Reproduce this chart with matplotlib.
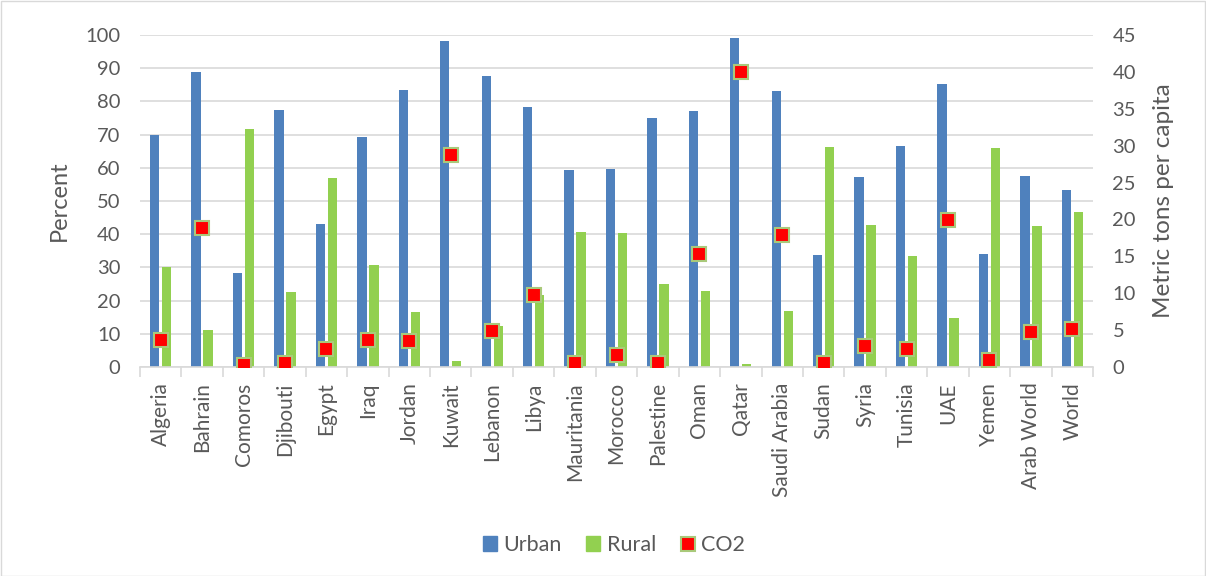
import matplotlib
matplotlib.use("Agg")
import matplotlib.pyplot as plt
from matplotlib.patches import Rectangle
from matplotlib.lines import Line2D
from matplotlib.ticker import FixedLocator, NullFormatter
import numpy as np

plt.rcParams['font.family'] = ['Lato', 'DejaVu Sans']

countries = ["Algeria", "Bahrain", "Comoros", "Djibouti", "Egypt", "Iraq", "Jordan",
             "Kuwait", "Lebanon", "Libya", "Mauritania", "Morocco", "Palestine", "Oman",
             "Qatar", "Saudi Arabia", "Sudan", "Syria", "Tunisia", "UAE", "Yemen",
             "Arab World", "World"]
urban = [70.0, 88.8, 28.2, 77.3, 43.0, 69.4, 83.4, 98.3, 87.7, 78.3, 59.3, 59.7, 75.1,
         77.2, 99.2, 83.0, 33.6, 57.2, 66.6, 85.3, 34.1, 57.6, 53.4]
rural = [30.0, 11.2, 71.8, 22.7, 57.0, 30.6, 16.6, 1.7, 12.3, 21.7, 40.7, 40.3, 24.9,
         22.8, 0.8, 17.0, 66.4, 42.8, 33.4, 14.7, 65.9, 42.4, 46.6]
co2 = [3.7, 18.9, 0.3, 0.5, 2.5, 3.7, 3.5, 28.8, 4.9, 9.7, 0.6, 1.6, 0.6,
       15.3, 40.0, 17.9, 0.5, 2.85, 2.5, 19.9, 1.0, 4.7, 5.1]

BLUE = "#4f81bd"
GREEN = "#92d050"
RED = "#ff0000"
GRID = "#d9d9d9"
TXT = "#595959"
MEDGE = "#a9c97a"

fig = plt.figure(figsize=(12.06, 5.76), dpi=100)
ax = fig.add_axes([140/1206, 1 - 367/576, (1093 - 140)/1206, (367 - 35)/576])
x = np.arange(len(countries))
w = 0.225
ax.bar(x - 0.145, urban, width=w, color=BLUE, zorder=2, label="Urban")
ax.bar(x + 0.145, rural, width=w, color=GREEN, zorder=2, label="Rural")

ax.set_xlim(-0.5, len(countries) - 0.5)
ax.set_ylim(0, 100)
ax.set_yticks(np.arange(0, 101, 10))
ax.grid(axis='y', color=GRID, linewidth=1.2, zorder=0)
ax.set_axisbelow(True)
for s in ["top", "left", "right"]:
    ax.spines[s].set_visible(False)
ax.spines["bottom"].set_color(GRID)
ax.spines["bottom"].set_linewidth(1.2)
ax.set_xticks(x)
ax.set_xticklabels(countries, rotation=90, fontsize=15, color=TXT)
ax.tick_params(axis='x', which='major', length=0, pad=11)
ax.xaxis.set_minor_locator(FixedLocator(np.arange(-0.5, len(countries), 1)))
ax.xaxis.set_minor_formatter(NullFormatter())
ax.tick_params(axis='x', which='minor', length=7, color=GRID, width=1.2)
ax.tick_params(axis='y', length=0, labelsize=14.5, labelcolor=TXT, pad=14)
ax.set_ylabel("Percent", fontsize=17, color=TXT)
ax.yaxis.set_label_coords(-0.074, 0.5)

ax2 = ax.twinx()
ax2.plot(x, co2, linestyle='none', marker='s', markersize=10, markerfacecolor=RED,
         markeredgecolor=MEDGE, markeredgewidth=1.5, zorder=3, label="CO2")
ax2.set_ylim(0, 45)
ax2.set_yticks(np.arange(0, 46, 5))
for s in ["top", "left", "right", "bottom"]:
    ax2.spines[s].set_visible(False)
ax2.tick_params(axis='y', length=0, labelsize=14.5, labelcolor=TXT, pad=14)
ax2.set_ylabel("Metric tons per capita", fontsize=17.5, color=TXT)
ax2.yaxis.set_label_coords(1.063, 0.5)

handles = [
    Rectangle((0, 0), 1, 1, color=BLUE),
    Rectangle((0, 0), 1, 1, color=GREEN),
    Line2D([], [], linestyle='none', marker='s', markersize=10, markerfacecolor=RED,
           markeredgecolor=MEDGE, markeredgewidth=1.5),
]
fig.legend(handles, ["Urban", "Rural", "CO2"], loc='center', ncol=3,
           bbox_to_anchor=(614/1206, 1 - 545/576), frameon=False, fontsize=15.5,
           labelcolor=TXT, handlelength=0.65, handleheight=0.65, handletextpad=0.3,
           columnspacing=1.15)

fig.patches.append(Rectangle((0.5/1206, 0.5/576), 1 - 1.5/1206, 1 - 1.5/576,
                             transform=fig.transFigure, fill=False,
                             edgecolor=GRID, linewidth=1))

fig.savefig("out.png", dpi=100, facecolor="white")
